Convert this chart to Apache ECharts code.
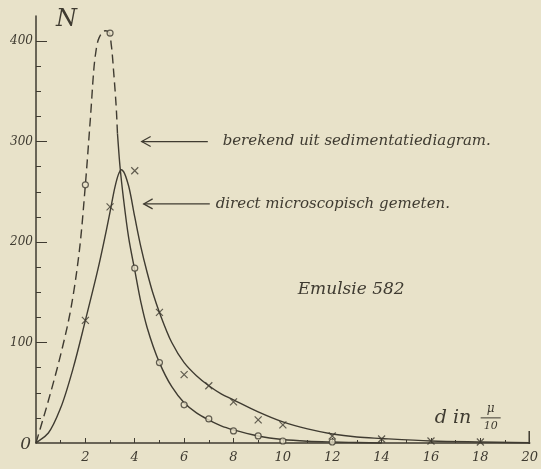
<!DOCTYPE html>
<html>
<head>
<meta charset="utf-8">
<script src="https://cdn.jsdelivr.net/npm/echarts@6/dist/echarts.min.js"></script>
<style>
  html, body { margin: 0; padding: 0; background: #e8e2c9; }
  #chart { width: 541px; height: 469px; }
</style>
</head>
<body>
<div id="chart"></div>
<script>
// Axis ticks (d in μ/10 along x, count N along y)
const xTickValues = [2, 4, 6, 8, 10, 12, 14, 16, 18, 20];
const xMinorTicks = [1, 3, 5, 7, 9, 11, 13, 15, 17, 19];
const yTickValues = [0, 100, 200, 300, 400];
const yMinorTicks = [25, 50, 75, 125, 150, 175, 225, 250, 275, 325, 350, 375];

// "berekend uit sedimentatiediagram": dashed extrapolated part, then solid part
const berekendDashed = [
  [0, 0], [0.5, 42], [1, 88], [1.4, 132], [1.75, 190], [2, 257], [2.2, 322],
  [2.4, 385], [2.55, 403], [2.75, 410], [2.95, 409], [3.05, 396], [3.15, 368],
  [3.25, 334], [3.3, 308]
];
const berekendSolid = [
  [3.3, 308], [3.4, 276], [3.55, 242], [3.75, 205], [4, 172], [4.25, 140],
  [4.5, 115], [5, 80], [5.5, 56], [6, 40], [6.5, 30], [7, 23], [7.5, 17],
  [8, 13], [9, 7], [10, 3.5], [11, 1.8], [12, 1], [13, 0.5], [14, 0]
];
const berekendPoints = [
  [2, 257], [3, 408], [4, 174], [5, 80], [6, 38], [7, 24], [8, 12],
  [9, 7], [10, 2], [12, 1]
];

// "direct microscopisch gemeten"
const gemetenCurve = [
  [0, 0], [0.5, 10], [1, 35], [1.5, 74], [2, 122], [2.5, 172], [2.75, 200],
  [3, 230], [3.2, 255], [3.35, 268], [3.45, 272], [3.55, 270], [3.75, 256],
  [4, 225], [4.25, 195], [4.5, 170], [4.75, 148], [5, 130], [5.5, 100],
  [6, 80], [6.5, 67], [7, 57], [7.5, 49], [8, 43], [9, 31], [10, 21],
  [11, 14], [12, 9], [13, 6], [14, 4.5], [16, 2], [18, 1], [20, 0.3]
];
const gemetenPoints = [
  [2, 122], [3, 235], [4, 271], [5, 130], [6, 68], [7, 57], [8, 41],
  [9, 23], [10, 18], [12, 7], [14, 4], [16, 2], [18, 1]
];

const INK = '#3f3b31';
const PAPER = '#e8e2c9';
const SERIF = '"DejaVu Serif", "Liberation Serif", serif';
const CROSS = 'path://M0,0L10,10M10,0L0,10';

// Centripetal Catmull-Rom spline through pixel points, as SVG path data
function splinePath(pts) {
  let d = 'M' + pts[0][0] + ',' + pts[0][1];
  const dist = (a, b) => Math.sqrt(Math.hypot(a[0] - b[0], a[1] - b[1]));
  for (let i = 0; i < pts.length - 1; i++) {
    const p0 = pts[Math.max(i - 1, 0)], p1 = pts[i], p2 = pts[i + 1], p3 = pts[Math.min(i + 2, pts.length - 1)];
    const d1 = dist(p0, p1), d2 = dist(p1, p2), d3 = dist(p2, p3);
    let c1 = p1.slice(), c2 = p2.slice();
    if (d1 > 1e-6) {
      for (let k = 0; k < 2; k++) {
        c1[k] = (d1 * d1 * p2[k] - d2 * d2 * p0[k] + (2 * d1 * d1 + 3 * d1 * d2 + d2 * d2) * p1[k]) / (3 * d1 * (d1 + d2));
      }
    } else {
      for (let k = 0; k < 2; k++) c1[k] = p1[k] + (p2[k] - p1[k]) / 3;
    }
    if (d3 > 1e-6) {
      for (let k = 0; k < 2; k++) {
        c2[k] = (d3 * d3 * p1[k] - d2 * d2 * p3[k] + (2 * d3 * d3 + 3 * d3 * d2 + d2 * d2) * p2[k]) / (3 * d3 * (d3 + d2));
      }
    } else {
      for (let k = 0; k < 2; k++) c2[k] = p2[k] - (p2[k] - p1[k]) / 3;
    }
    d += 'C' + c1[0] + ',' + c1[1] + ',' + c2[0] + ',' + c2[1] + ',' + p2[0] + ',' + p2[1];
  }
  return d;
}

// A custom series that draws one smooth curve through its data points
function curveSeries(name, data, dash) {
  return {
    name: name, type: 'custom', data: data, encode: { x: 0, y: 1 }, z: 3,
    renderItem: (params, api) => {
      if (params.dataIndex !== 0) return null;
      const pts = data.map(p => api.coord(p));
      return {
        type: 'path', shape: { pathData: splinePath(pts) },
        style: { stroke: INK, lineWidth: 1.4, fill: null, lineDash: dash || null }
      };
    }
  };
}

const chart = echarts.init(document.getElementById('chart'), null, { renderer: 'canvas' });

chart.setOption({
  backgroundColor: PAPER,
  animation: false,
  grid: { left: 36, right: 5, top: 16, bottom: 26, containLabel: false },
  xAxis: [
    {
      type: 'value', min: 0, max: 20, position: 'bottom',
      axisLine: { lineStyle: { color: INK, width: 1.5 } },
      axisTick: { inside: true, length: 5, customValues: xTickValues, lineStyle: { color: INK, width: 1 } },
      axisLabel: {
        customValues: xTickValues, margin: 8, color: INK,
        fontFamily: SERIF, fontStyle: 'italic', fontSize: 13
      },
      splitLine: { show: false }
    },
    {
      type: 'value', min: 0, max: 20, position: 'bottom', offset: 0,
      axisLine: { show: false },
      axisTick: { inside: true, length: 3, customValues: xMinorTicks, lineStyle: { color: INK, width: 1 } },
      axisLabel: { show: false },
      splitLine: { show: false }
    }
  ],
  yAxis: [
    {
      type: 'value', min: 0, max: 425, position: 'left',
      name: 'N', nameLocation: 'end', nameGap: -4,
      nameTextStyle: {
        color: INK, fontFamily: SERIF, fontStyle: 'italic', fontSize: 24,
        align: 'left', verticalAlign: 'middle', padding: [0, 0, 0, 20]
      },
      axisLine: { lineStyle: { color: INK, width: 1.5 } },
      axisTick: { inside: true, length: 11, customValues: yTickValues.slice(1), lineStyle: { color: INK, width: 1 } },
      axisLabel: {
        customValues: yTickValues, margin: 3, color: INK,
        fontFamily: SERIF, fontStyle: 'italic', fontSize: 12,
        formatter: v => v === 0 ? '{o|0}' : String(v),
        rich: { o: { fontFamily: SERIF, fontStyle: 'italic', fontSize: 17, color: INK, padding: [4, 2, 0, 0] } }
      },
      splitLine: { show: false }
    },
    {
      type: 'value', min: 0, max: 425, position: 'left', offset: 0,
      axisLine: { show: false },
      axisTick: { inside: true, length: 5, customValues: yMinorTicks, lineStyle: { color: INK, width: 1 } },
      axisLabel: { show: false },
      splitLine: { show: false }
    }
  ],
  series: [
    curveSeries('berekend uit sedimentatiediagram (geëxtrapoleerd)', berekendDashed, [9, 5]),
    curveSeries('berekend uit sedimentatiediagram', berekendSolid),
    curveSeries('direct microscopisch gemeten', gemetenCurve),
    {
      name: 'berekend punten', type: 'scatter', data: berekendPoints,
      symbol: 'circle', symbolSize: 6,
      itemStyle: { color: PAPER, borderColor: INK, borderWidth: 1.2 }, z: 5
    },
    {
      name: 'gemeten punten', type: 'scatter', data: gemetenPoints,
      symbol: CROSS, symbolSize: 7,
      itemStyle: { color: 'none', borderColor: INK, borderWidth: 1.2 }, z: 5
    }
  ]
});

// Annotations anchored in data space
const px = (x, y) => chart.convertToPixel({ gridIndex: 0 }, [x, y]);
const textStyle = (size) => ({ fill: INK, font: 'italic ' + size + 'px ' + SERIF });

function arrow(x0, x1, y) {
  const a = px(x0, y), b = px(x1, y);
  return [
    { type: 'line', shape: { x1: a[0], y1: a[1], x2: b[0], y2: b[1] }, style: { stroke: INK, lineWidth: 1.2 } },
    { type: 'polyline', shape: { points: [[a[0] + 9, a[1] - 5], [a[0], a[1]], [a[0] + 9, a[1] + 5]] },
      style: { stroke: INK, lineWidth: 1.2, fill: null } }
  ];
}

const t1 = px(7.56, 300), t2 = px(7.28, 238), t3 = px(10.6, 153), dl = px(16.15, 25);
const axisEnd = px(20, 0);

chart.setOption({
  graphic: [
    // closing mark at the end of the x axis
    { type: 'line', shape: { x1: axisEnd[0] - 0.5, y1: axisEnd[1] - 12, x2: axisEnd[0] - 0.5, y2: axisEnd[1] + 1 }, style: { stroke: INK, lineWidth: 1.5 } },
    ...arrow(4.28, 6.96, 300),
    ...arrow(4.36, 7.04, 238),
    { type: 'text', x: t1[0], y: t1[1], style: Object.assign(textStyle(15), { text: 'berekend uit sedimentatiediagram.', verticalAlign: 'middle' }) },
    { type: 'text', x: t2[0], y: t2[1], style: Object.assign(textStyle(15), { text: 'direct microscopisch gemeten.', verticalAlign: 'middle' }) },
    { type: 'text', x: t3[0], y: t3[1], style: Object.assign(textStyle(17), { text: 'Emulsie 582', verticalAlign: 'middle' }) },
    { type: 'text', x: dl[0], y: dl[1], style: Object.assign(textStyle(19), { text: 'd in', verticalAlign: 'middle' }) },
    { type: 'text', x: dl[0] + 56, y: dl[1] - 9, style: Object.assign(textStyle(12), { text: 'μ', align: 'center', verticalAlign: 'middle' }) },
    { type: 'line', shape: { x1: dl[0] + 46, y1: dl[1], x2: dl[0] + 66, y2: dl[1] }, style: { stroke: INK, lineWidth: 1 } },
    { type: 'text', x: dl[0] + 56, y: dl[1] + 8, style: Object.assign(textStyle(11), { text: '10', align: 'center', verticalAlign: 'middle' }) }
  ]
});
</script>
</body>
</html>
